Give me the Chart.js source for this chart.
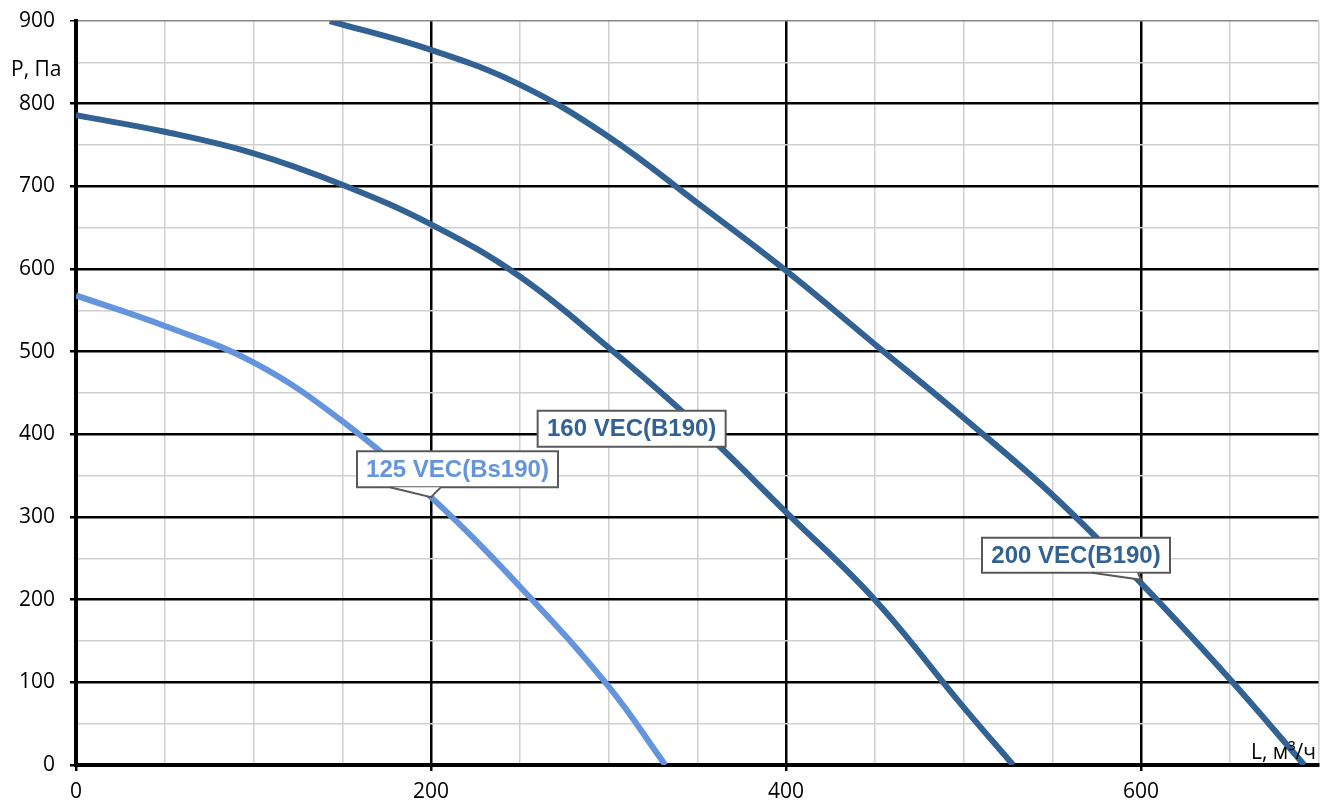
<!DOCTYPE html>
<html>
<head>
<meta charset="utf-8">
<script src="https://cdn.jsdelivr.net/npm/chart.js@4/dist/chart.umd.min.js"></script>
<style>
  body { margin: 0; background: #fff; }
  #wrap { width: 1322px; height: 803px; }
</style>
</head>
<body>
<div id="wrap"><canvas id="fanChart" width="1322" height="803"></canvas></div>
<script>
/* ================= DATA ================= */
// air flow L, m3/h  /  pressure P, Pa
const flow125 = [0, 50, 100, 150, 200, 250, 300, 332];
const press125 = [568, 531, 487, 416, 324, 216, 95, 0];

const flow160 = [0, 50, 100, 150, 200, 250, 300, 350, 400, 450, 500, 528];
const press160 = [786, 766, 740, 702, 654, 591, 505, 411, 306, 200, 70, 0];

const flow200 = [143, 200, 250, 300, 350, 400, 450, 500, 550, 600, 650, 692];
const press200 = [900, 865, 823, 760, 680, 598, 509, 420, 327, 220, 104, 0];

const seriesNames = ["125 VEC(Bs190)", "160 VEC(B190)", "200 VEC(B190)"];

const xTicks = [0, 200, 400, 600];
const yTicks = [0, 100, 200, 300, 400, 500, 600, 700, 800, 900];

/* ================= STYLE ================= */
const LIGHT = "#6495dc";
const DARK = "#326294";
const TICK_FONT = { family: "'Open Sans', sans-serif", size: 21 };

const toPts = (xs, ys) => xs.map((x, i) => ({ x, y: ys[i] }));

// callouts anchored to a data point, box offsets in px
const callouts = [
  { text: seriesNames[0], color: LIGHT, at: [200, 324], box: [-74, -46, 201, 36], tip: [-41, 10] },
  { text: seriesNames[1], color: DARK, at: [366, 385], box: [-188, -36, 188, 36], tip: null },
  { text: seriesNames[2], color: DARK, at: [600, 224], box: [-159, -42, 188, 35], tip: [-49, -3] }
];

const lineSet = (label, data, color) => ({
  label, data,
  borderColor: color,
  borderWidth: 6,
  pointRadius: 0,
  fill: false,
  tension: 0.4
});

// drop the automatic label overhang so the plot area sits where we want
const noOverhang = s => {
  s.paddingTop = 0; s.paddingBottom = 0;
  s.paddingLeft = 0; s.paddingRight = 0;
};

/* ---------- custom drawing: axis names + callouts ---------- */
const extras = {
  id: "extras",
  afterDatasetsDraw(chart) {
    const { ctx, scales: { x, y } } = chart;
    ctx.save();

    callouts.forEach(c => {
      const ax = x.getPixelForValue(c.at[0]);
      const ay = y.getPixelForValue(c.at[1]);
      const [dx, dy, w, h] = c.box;
      const bx = ax + dx, by = ay + dy;

      ctx.fillStyle = "#fff";
      ctx.strokeStyle = "#595959";
      ctx.lineWidth = 2;
      ctx.beginPath();
      ctx.rect(bx, by, w, h);
      ctx.fill();
      ctx.stroke();

      if (c.tip) {
        ctx.beginPath();
        ctx.moveTo(ax + c.tip[0], by + h);
        ctx.lineTo(ax, ay);
        ctx.lineTo(ax + c.tip[1], by + h);
        ctx.closePath();
        ctx.fill();
        ctx.beginPath();
        ctx.moveTo(ax + c.tip[0], by + h);
        ctx.lineTo(ax, ay);
        ctx.lineTo(ax + c.tip[1], by + h);
        ctx.stroke();
      }

      ctx.fillStyle = c.color;
      ctx.font = "bold 24px 'Liberation Sans', Arial, sans-serif";
      ctx.textAlign = "center";
      ctx.textBaseline = "middle";
      ctx.fillText(c.text, bx + w / 2, by + h / 2 + 1);
    });

    ctx.fillStyle = "#000";
    ctx.font = "21px 'Open Sans', sans-serif";
    ctx.textAlign = "left";
    ctx.textBaseline = "middle";
    ctx.fillText("P, Па", 11, 70);
    ctx.textBaseline = "alphabetic";
    ctx.fillText("L, м³/ч", 1251, 759);

    ctx.restore();
  }
};

/* ================= CHART ================= */
new Chart(document.getElementById("fanChart"), {
  type: "line",
  data: {
    datasets: [
      lineSet(seriesNames[0], toPts(flow125, press125), LIGHT),
      lineSet(seriesNames[1], toPts(flow160, press160), DARK),
      lineSet(seriesNames[2], toPts(flow200, press200), DARK)
    ]
  },
  options: {
    responsive: false,
    animation: false,
    devicePixelRatio: 1,
    layout: { padding: { top: 21, right: 3.5, left: 0, bottom: 0 } },
    plugins: { legend: { display: false }, tooltip: { enabled: false } },
    scales: {
      x: {
        type: "linear",
        min: 0, max: 700,
        afterFit: s => { s.height = 38; noOverhang(s); },
        ticks: {
          stepSize: 50,
          color: "#000",
          font: TICK_FONT,
          padding: 8,
          maxRotation: 0,
          autoSkip: false,
          callback: v => (xTicks.includes(v) ? v : "")
        },
        grid: {
          color: c => (xTicks.includes(c.tick.value) ? "#000" : "#d0d0d0"),
          lineWidth: c => (xTicks.includes(c.tick.value) ? 2.5 : 1.5),
          tickColor: c => (xTicks.includes(c.tick.value) ? "#000" : "rgba(0,0,0,0)"),
          tickLength: 6
        },
        border: { color: "#000", width: 4 }
      },
      y: {
        type: "linear",
        min: 0, max: 900,
        afterFit: s => { s.width = 76; noOverhang(s); },
        ticks: {
          stepSize: 50,
          color: "#000",
          font: TICK_FONT,
          padding: 15,
          autoSkip: false,
          callback: v => (yTicks.includes(v) ? v : "")
        },
        grid: {
          color: c => (yTicks.includes(c.tick.value) && c.tick.value < 900 ? "#000" : (c.tick.value === 900 ? "#888" : "#d0d0d0")),
          lineWidth: c => (yTicks.includes(c.tick.value) && c.tick.value < 900 ? 2.5 : 1.5),
          tickColor: c => (yTicks.includes(c.tick.value) ? "#000" : "rgba(0,0,0,0)"),
          tickLength: 6
        },
        border: { color: "#000", width: 4 }
      }
    }
  },
  plugins: [extras]
});
</script>
</body>
</html>
